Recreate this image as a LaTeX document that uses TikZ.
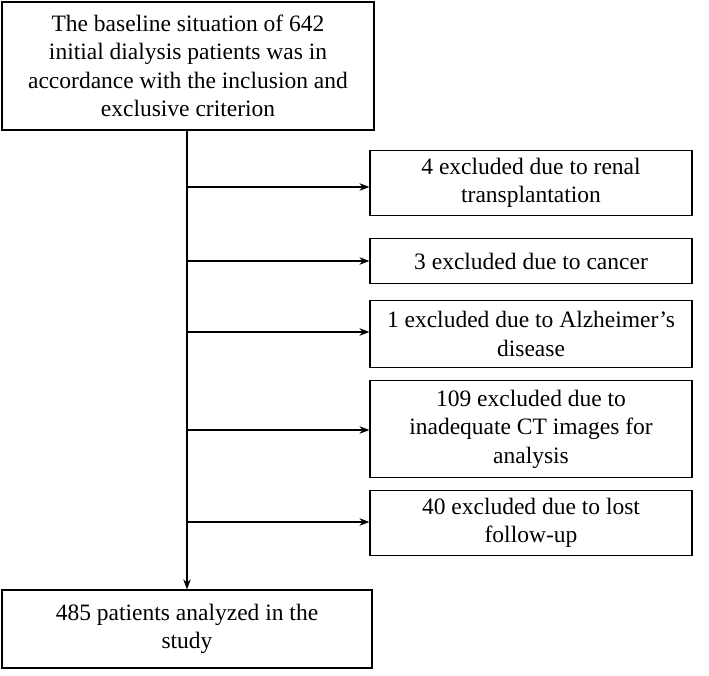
\documentclass[tikz,border=0pt]{standalone}
\usepackage{fontspec}
\setmainfont{Liberation Serif}
\usetikzlibrary{arrows.meta}

\begin{document}
\begin{tikzpicture}[x=1pt, y=-1pt, every node/.style={font=\fontsize{23.5}{28.5}\selectfont}]
    \tikzset{box/.style={draw=black, line width=1.2pt, align=center, inner sep=0pt}}
    \useasboundingbox (0,0) rectangle (709,676);
    \node[box, minimum width=372pt, minimum height=128pt] (T) at (188,66) {The baseline situation of 642\\initial dialysis patients was in\\accordance with the inclusion and\\exclusive criterion};
    \node[box, minimum width=370pt, minimum height=78pt] (S) at (187,629) {485 patients analyzed in the\\study};
    \node[box, minimum width=322pt, minimum height=65pt] (E1) at (531,183) {4 excluded due to renal\\transplantation};
    \node[box, minimum width=322pt, minimum height=45pt] (E2) at (531,261) {3 excluded due to cancer};
    \node[box, minimum width=322pt, minimum height=67pt] (E3) at (531,334) {1 excluded due to Alzheimer's\\disease};
    \node[box, minimum width=322pt, minimum height=97pt] (E4) at (531,429) {109 excluded due to\\inadequate CT images for\\analysis};
    \node[box, minimum width=322pt, minimum height=65pt] (E5) at (531,523) {40 excluded due to lost\\follow-up};
    \draw[line width=1.2pt, -{Stealth[length=10pt]}] (T.south -| 187,0) -- (S.north -| 187,0);
    \foreach \n/\y in {E1/187, E2/261, E3/332, E4/430, E5/522}
        \draw[line width=1.2pt, -{Stealth[length=10pt]}] (187,\y) -- (\n.west |- 0,\y);
\end{tikzpicture}
\end{document}
